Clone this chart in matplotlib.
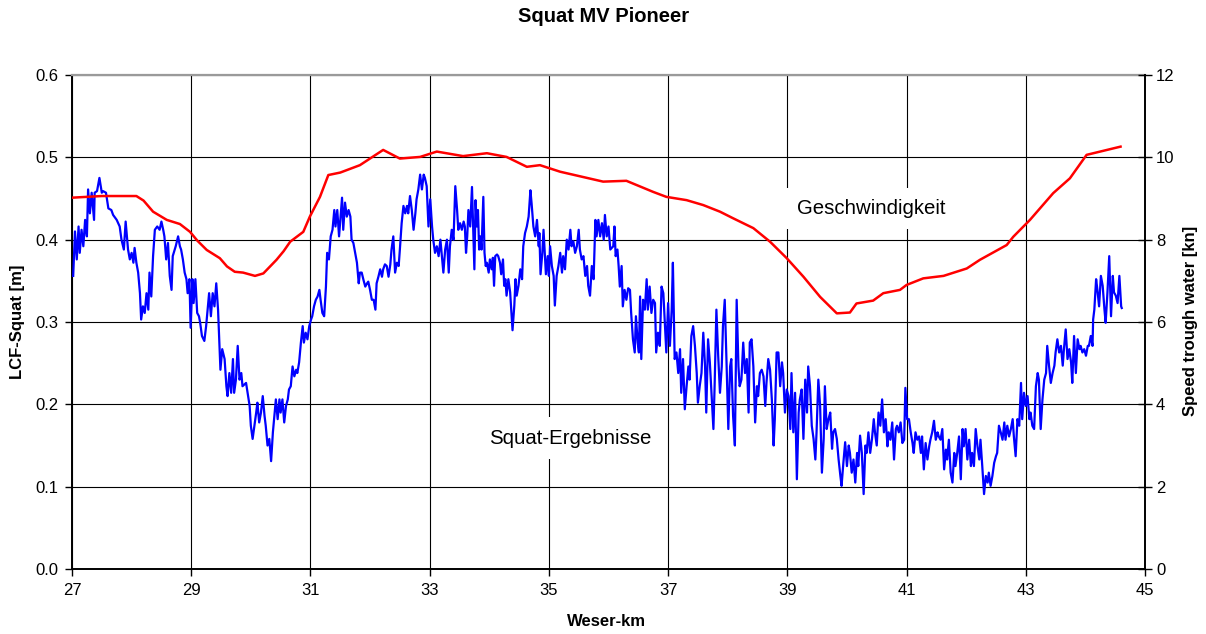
import numpy as np
import matplotlib
matplotlib.use("Agg")
import matplotlib.pyplot as plt

plt.rcParams['font.family'] = ['Liberation Sans', 'DejaVu Sans']

# ---------------- data ----------------
title = "Squat MV Pioneer"
x_label = "Weser-km"
y_label_left = "LCF-Squat [m]"
y_label_right = "Speed trough water [kn]"
label_squat = "Squat-Ergebnisse"
label_speed = "Geschwindigkeit"

x_ticks = [27, 29, 31, 33, 35, 37, 39, 41, 43, 45]
y_ticks_left = [0.0, 0.1, 0.2, 0.3, 0.4, 0.5, 0.6]
y_ticks_right = [0, 2, 4, 6, 8, 10, 12]

# Squat results (blue), Weser-km
blue_km = [
    27.02, 27.05, 27.08, 27.11, 27.13, 27.16, 27.19, 27.22, 27.25, 27.27,
    27.30, 27.33, 27.37, 27.38, 27.42, 27.46, 27.50, 27.52, 27.57, 27.61,
    27.66, 27.69, 27.75, 27.80, 27.83, 27.87, 27.90, 27.94, 27.97, 28.00,
    28.03, 28.05, 28.08, 28.11, 28.14, 28.16, 28.19, 28.22, 28.25, 28.28,
    28.30, 28.33, 28.36, 28.39, 28.43, 28.47, 28.50, 28.53, 28.55, 28.58,
    28.61, 28.64, 28.67, 28.69, 28.74, 28.78, 28.81, 28.83, 28.86, 28.89,
    28.92, 28.94, 28.97, 28.99, 29.02, 29.04, 29.07, 29.10, 29.13, 29.15,
    29.18, 29.22, 29.25, 29.30, 29.33, 29.36, 29.39, 29.42, 29.45, 29.49,
    29.52, 29.56, 29.59, 29.61, 29.64, 29.67, 29.70, 29.72, 29.75, 29.78,
    29.81, 29.84, 29.86, 29.92, 29.98, 30.00, 30.03, 30.06, 30.09, 30.11,
    30.14, 30.17, 30.20, 30.23, 30.25, 30.28, 30.31, 30.34, 30.37, 30.39,
    30.42, 30.45, 30.48, 30.50, 30.53, 30.56, 30.59, 30.62, 30.64, 30.67,
    30.70, 30.73, 30.76, 30.78, 30.81, 30.84, 30.87, 30.89, 30.92, 30.95,
    30.98, 31.01, 31.03, 31.06, 31.09, 31.12, 31.15, 31.17, 31.20, 31.23,
    31.26, 31.28, 31.31, 31.34, 31.37, 31.40, 31.42, 31.45, 31.48,
    31.53, 31.55, 31.58, 31.61, 31.64, 31.67, 31.69, 31.72, 31.75, 31.78,
    31.81, 31.83, 31.86, 31.89, 31.92, 31.95, 31.97, 32.00, 32.03, 32.06,
    32.09, 32.11, 32.14, 32.17, 32.20, 32.22, 32.25, 32.28, 32.31, 32.34,
    32.36, 32.39, 32.42, 32.45, 32.48, 32.50, 32.53, 32.56, 32.59, 32.62,
    32.64, 32.67, 32.70, 32.73, 32.76, 32.78, 32.81, 32.84, 32.87, 32.90,
    32.92, 32.95, 32.98, 33.01, 33.04, 33.06, 33.09, 33.12, 33.15, 33.18,
    33.20, 33.23, 33.26, 33.29, 33.32, 33.34, 33.37, 33.40, 33.43, 33.46,
    33.48,
    33.51, 33.54, 33.57, 33.59, 33.61, 33.63, 33.65, 33.68, 33.71, 33.73,
    33.75, 33.77, 33.79, 33.81, 33.83, 33.85, 33.87, 33.90, 33.92, 33.94,
    33.96, 33.99, 34.01, 34.04, 34.06, 34.08, 34.10, 34.13, 34.15, 34.18,
    34.20, 34.23, 34.25, 34.27, 34.29, 34.32, 34.35, 34.37, 34.39, 34.42,
    34.44, 34.46, 34.49, 34.52, 34.55, 34.57, 34.60, 34.63, 34.66, 34.69,
    34.71, 34.74, 34.77, 34.80, 34.83, 34.84, 34.86, 34.89, 34.91, 34.93,
    34.95, 34.98, 35.00, 35.02, 35.05, 35.08, 35.10, 35.13, 35.16, 35.19,
    35.22, 35.24, 35.27, 35.30, 35.33, 35.36, 35.38, 35.41, 35.44, 35.47,
    35.50, 35.52, 35.55, 35.58, 35.61, 35.64, 35.66, 35.69, 35.72, 35.75,
    35.78, 35.80, 35.83, 35.86, 35.89, 35.92, 35.94, 35.97, 36.00, 36.03,
    36.08, 36.10, 36.12, 36.15, 36.17, 36.19, 36.22, 36.24, 36.27, 36.30,
    36.33, 36.36, 36.38, 36.41, 36.44, 36.46, 36.49, 36.51, 36.53, 36.55,
    36.58, 36.61, 36.64, 36.66, 36.69, 36.72, 36.75, 36.78, 36.80, 36.83,
    36.86, 36.89, 36.92, 36.94, 36.97, 37.00, 37.03, 37.06, 37.08, 37.11,
    37.14, 37.17, 37.20, 37.22, 37.25, 37.28, 37.31, 37.34, 37.36, 37.39,
    37.42, 37.45, 37.48, 37.50, 37.53, 37.56, 37.59, 37.62, 37.64, 37.67,
    37.70, 37.73, 37.76, 37.78, 37.81, 37.84, 37.87, 37.90, 37.92, 37.95,
    37.98, 38.01, 38.04, 38.06, 38.09, 38.12, 38.15, 38.18, 38.20, 38.23,
    38.26, 38.29, 38.32, 38.35, 38.37, 38.40, 38.43, 38.46, 38.49, 38.51,
    38.54, 38.57, 38.60, 38.63, 38.65, 38.68, 38.71, 38.74, 38.77, 38.79,
    38.82, 38.85, 38.88, 38.91, 38.93, 38.96, 38.99, 39.02, 39.05, 39.07,
    39.10, 39.13, 39.16, 39.19, 39.21, 39.24, 39.27, 39.30, 39.33, 39.35,
    39.38, 39.41, 39.44, 39.47, 39.49, 39.52, 39.55, 39.58, 39.61, 39.63,
    39.66, 39.69, 39.72, 39.75, 39.77, 39.80, 39.83, 39.86, 39.89, 39.91,
    39.94, 39.97, 40.00, 40.03, 40.05, 40.08, 40.11, 40.14, 40.17, 40.19,
    40.22, 40.25, 40.28, 40.31, 40.33, 40.36, 40.39, 40.42, 40.45, 40.47,
    40.50, 40.53, 40.56, 40.59,
    40.62, 40.65, 40.68, 40.70, 40.73, 40.76, 40.79, 40.82, 40.84, 40.87,
    40.90, 40.93, 40.96, 40.98, 41.01, 41.04, 41.07, 41.10, 41.12, 41.15,
    41.18, 41.21, 41.24, 41.26, 41.29, 41.32, 41.35, 41.38, 41.40, 41.43,
    41.46, 41.49, 41.52, 41.54, 41.57, 41.60, 41.63, 41.66, 41.68, 41.71,
    41.74, 41.77, 41.80, 41.82, 41.85, 41.88, 41.91, 41.94, 41.96, 41.99,
    42.02, 42.05, 42.08, 42.10, 42.13, 42.16, 42.19, 42.22, 42.24, 42.27,
    42.30, 42.33, 42.36, 42.38, 42.41, 42.44, 42.47, 42.50, 42.52, 42.55,
    42.58, 42.61, 42.64, 42.66, 42.69, 42.72, 42.75, 42.78, 42.80, 42.83,
    42.86, 42.89, 42.92, 42.94, 42.97, 43.00, 43.03, 43.06, 43.08, 43.11,
    43.14, 43.17, 43.20, 43.22, 43.25, 43.28, 43.31, 43.34, 43.36, 43.39,
    43.42, 43.45, 43.48, 43.50, 43.53, 43.56, 43.59, 43.62, 43.64, 43.67,
    43.70, 43.73, 43.76, 43.78, 43.81, 43.84, 43.87, 43.90, 43.92, 43.95,
    43.98, 44.01, 44.04, 44.06, 44.09, 44.12, 44.13, 44.15, 44.18, 44.20,
    44.23, 44.26, 44.29, 44.32, 44.34, 44.37, 44.40, 44.43, 44.46, 44.48,
    44.51, 44.54, 44.57, 44.60, 44.61,
]

# Squat results (blue), LCF-Squat [m]
blue_squat = [
    0.356, 0.410, 0.376, 0.416, 0.384, 0.412, 0.392, 0.424, 0.404, 0.461,
    0.432, 0.457, 0.424, 0.457, 0.459, 0.475, 0.457, 0.459, 0.457, 0.438,
    0.436, 0.430, 0.424, 0.416, 0.400, 0.388, 0.422, 0.388, 0.376, 0.384,
    0.372, 0.390, 0.372, 0.360, 0.335, 0.303, 0.319, 0.311, 0.335, 0.315,
    0.360, 0.331, 0.380, 0.412, 0.416, 0.412, 0.422, 0.412, 0.404, 0.376,
    0.396, 0.356, 0.339, 0.380, 0.392, 0.404, 0.392, 0.388, 0.376, 0.360,
    0.352, 0.335, 0.352, 0.293, 0.352, 0.323, 0.352, 0.311, 0.307, 0.299,
    0.283, 0.277, 0.295, 0.335, 0.307, 0.335, 0.319, 0.347, 0.315, 0.242,
    0.267, 0.255, 0.222, 0.210, 0.238, 0.214, 0.255, 0.214, 0.230, 0.271,
    0.230, 0.238, 0.222, 0.226, 0.198, 0.174, 0.158, 0.174, 0.190, 0.202,
    0.178, 0.190, 0.210, 0.186, 0.174, 0.150, 0.158, 0.131, 0.166, 0.182,
    0.206, 0.182, 0.206, 0.190, 0.206, 0.178, 0.198, 0.206, 0.218, 0.222,
    0.246, 0.234, 0.242, 0.238, 0.251, 0.275, 0.295, 0.275, 0.287, 0.279,
    0.295, 0.303, 0.307, 0.319, 0.327, 0.331, 0.339, 0.327, 0.311, 0.307,
    0.343, 0.384, 0.376, 0.404, 0.412, 0.436, 0.416, 0.436, 0.404,
    0.451, 0.412, 0.445, 0.428, 0.436, 0.428, 0.400, 0.396, 0.384, 0.372,
    0.347, 0.360, 0.360, 0.351, 0.343, 0.347, 0.349, 0.339, 0.327, 0.327,
    0.315, 0.347, 0.355, 0.364, 0.355, 0.364, 0.370, 0.368, 0.355, 0.370,
    0.388, 0.404, 0.360, 0.372, 0.368, 0.388, 0.420, 0.441, 0.432, 0.441,
    0.432, 0.453, 0.436, 0.412, 0.432, 0.449, 0.461, 0.479, 0.461, 0.479,
    0.475, 0.465, 0.416, 0.449, 0.416, 0.400, 0.384, 0.392, 0.380, 0.400,
    0.384, 0.360, 0.388, 0.400, 0.360, 0.392, 0.412, 0.400, 0.465, 0.436,
    0.412,
    0.420, 0.412, 0.422, 0.416, 0.384, 0.404, 0.436, 0.416, 0.464, 0.412,
    0.364, 0.448, 0.416, 0.436, 0.388, 0.404, 0.388, 0.452, 0.384, 0.368,
    0.372, 0.360, 0.376, 0.364, 0.378, 0.344, 0.380, 0.382, 0.380, 0.372,
    0.358, 0.376, 0.344, 0.352, 0.332, 0.352, 0.336, 0.312, 0.290, 0.320,
    0.352, 0.332, 0.344, 0.364, 0.352, 0.392, 0.408, 0.416, 0.428, 0.460,
    0.444, 0.416, 0.404, 0.424, 0.392, 0.408, 0.358, 0.384, 0.412, 0.384,
    0.358, 0.380, 0.356, 0.392, 0.368, 0.356, 0.320, 0.356, 0.368, 0.384,
    0.360, 0.380, 0.364, 0.400, 0.388, 0.412, 0.392, 0.398, 0.384, 0.392,
    0.412, 0.388, 0.376, 0.380, 0.356, 0.368, 0.344, 0.332, 0.368, 0.352,
    0.424, 0.404, 0.424, 0.404, 0.420, 0.400, 0.430, 0.404, 0.416, 0.388,
    0.392, 0.416, 0.380, 0.388, 0.368, 0.343, 0.368, 0.319, 0.339, 0.327,
    0.341, 0.339, 0.311, 0.279, 0.263, 0.307, 0.275, 0.263, 0.331, 0.255,
    0.327, 0.315, 0.352, 0.315, 0.343, 0.311, 0.327, 0.323, 0.263, 0.287,
    0.271, 0.343, 0.335, 0.307, 0.263, 0.323, 0.271, 0.315, 0.372, 0.255,
    0.263, 0.238, 0.267, 0.214, 0.255, 0.194, 0.222, 0.246, 0.230, 0.283,
    0.295, 0.271, 0.238, 0.202, 0.222, 0.238, 0.287, 0.246, 0.190, 0.279,
    0.251, 0.210, 0.170, 0.222, 0.315, 0.259, 0.214, 0.246, 0.295, 0.327,
    0.251, 0.170, 0.246, 0.255, 0.186, 0.150, 0.327, 0.246, 0.222, 0.230,
    0.275, 0.238, 0.255, 0.190, 0.275, 0.279, 0.246, 0.178, 0.222, 0.210,
    0.238, 0.242, 0.234, 0.198, 0.226, 0.255, 0.242, 0.206, 0.150, 0.182,
    0.263, 0.263, 0.222, 0.251, 0.238, 0.190, 0.218, 0.210, 0.170, 0.238,
    0.166, 0.214, 0.109, 0.190, 0.206, 0.218, 0.158, 0.230, 0.190, 0.246,
    0.222, 0.174, 0.158, 0.133, 0.166, 0.230, 0.198, 0.117, 0.158, 0.222,
    0.170, 0.182, 0.190, 0.146, 0.166, 0.170, 0.158, 0.133, 0.113, 0.101,
    0.129, 0.154, 0.125, 0.150, 0.141, 0.117, 0.133, 0.105, 0.141, 0.125,
    0.162, 0.141, 0.091, 0.150, 0.141, 0.166, 0.141, 0.158, 0.182, 0.166,
    0.150, 0.190, 0.174, 0.206,
    0.166, 0.182, 0.149, 0.166, 0.157, 0.178, 0.133, 0.170, 0.174, 0.166,
    0.178, 0.153, 0.157, 0.220, 0.182, 0.182, 0.166, 0.153, 0.141, 0.166,
    0.157, 0.161, 0.141, 0.161, 0.121, 0.153, 0.133, 0.149, 0.157, 0.166,
    0.180, 0.157, 0.166, 0.161, 0.157, 0.170, 0.121, 0.145, 0.133, 0.157,
    0.117, 0.105, 0.141, 0.125, 0.141, 0.161, 0.109, 0.170, 0.149, 0.170,
    0.133, 0.157, 0.125, 0.141, 0.125, 0.170, 0.149, 0.133, 0.157, 0.125,
    0.091, 0.113, 0.105, 0.117, 0.101, 0.113, 0.129, 0.137, 0.141, 0.174,
    0.166, 0.157, 0.178, 0.157, 0.174, 0.161, 0.170, 0.182, 0.161, 0.137,
    0.182, 0.174, 0.226, 0.182, 0.214, 0.198, 0.210, 0.182, 0.190, 0.174,
    0.170, 0.222, 0.238, 0.230, 0.170, 0.206, 0.230, 0.238, 0.271, 0.247,
    0.226, 0.238, 0.247, 0.263, 0.279, 0.263, 0.271, 0.247, 0.267, 0.291,
    0.255, 0.267, 0.251, 0.226, 0.283, 0.238, 0.279, 0.267, 0.271, 0.263,
    0.267, 0.259, 0.271, 0.271, 0.283, 0.271, 0.303, 0.315, 0.352, 0.340,
    0.319, 0.356, 0.344, 0.315, 0.299, 0.336, 0.380, 0.307, 0.356, 0.336,
    0.332, 0.323, 0.356, 0.319, 0.317,
]

# Speed through water (red), Weser-km and knots
red_km = [
    27.00, 27.50, 28.08, 28.20, 28.36, 28.59, 28.81, 28.98, 29.10, 29.26,
    29.48, 29.60, 29.73, 29.87, 30.07, 30.21, 30.43, 30.55, 30.66, 30.88,
    30.99, 31.16, 31.30, 31.50, 31.83, 32.22, 32.50, 32.84, 33.12, 33.56,
    33.96, 34.29, 34.63, 34.85, 35.19, 35.91, 36.30, 36.75, 36.97, 37.31,
    37.59, 37.87, 38.09, 38.43, 38.71, 38.99, 39.27, 39.55, 39.83, 40.05,
    40.16, 40.44, 40.61, 40.89, 41.00, 41.28, 41.62, 42.01, 42.23, 42.68,
    42.79, 43.07, 43.46, 43.74, 44.02, 44.59,
]
red_kn = [
    9.02, 9.06, 9.06, 8.95, 8.68, 8.48, 8.38, 8.19, 7.98, 7.75,
    7.55, 7.35, 7.22, 7.20, 7.12, 7.18, 7.51, 7.72, 7.95, 8.19,
    8.56, 9.04, 9.57, 9.63, 9.81, 10.18, 9.97, 10.01, 10.14, 10.03,
    10.10, 10.01, 9.77, 9.81, 9.65, 9.41, 9.43, 9.16, 9.04, 8.96,
    8.84, 8.68, 8.52, 8.28, 7.95, 7.55, 7.10, 6.61, 6.21, 6.23,
    6.45, 6.52, 6.70, 6.78, 6.90, 7.06, 7.12, 7.30, 7.51, 7.87,
    8.07, 8.48, 9.13, 9.49, 10.06, 10.26,
]

assert len(blue_km) == len(blue_squat), (len(blue_km), len(blue_squat))
assert len(red_km) == len(red_kn), (len(red_km), len(red_kn))

# ---------------- figure ----------------
W, H = 1206, 634
fig = plt.figure(figsize=(W / 100, H / 100), dpi=100)
L, R, T, B = 72, 1145, 75, 569
ax = fig.add_axes([L / W, 1 - B / H, (R - L) / W, (B - T) / H])

ax.plot(blue_km, blue_squat, color='#0000ff', lw=1.6, zorder=3)
ax.set_xlim(27, 45)
ax.set_ylim(0, 0.6)
ax.set_xticks(x_ticks)
ax.set_xticklabels([str(v) for v in x_ticks])
ax.set_yticks(y_ticks_left)
ax.set_yticklabels([f"{v:.1f}" for v in y_ticks_left])
ax.grid(True, color='#000000', lw=0.8)
ax.set_axisbelow(True)

ax.tick_params(axis='x', direction='out', length=5, width=1, labelsize=12, pad=5)
ax.tick_params(axis='y', direction='out', length=5, width=1, labelsize=12, pad=5)
for s in ['left', 'bottom']:
    ax.spines[s].set_color('black')
    ax.spines[s].set_linewidth(1.4)
ax.spines['top'].set_color('#9a9a9a')
ax.spines['top'].set_linewidth(1.6)
ax.spines['right'].set_visible(False)

ax2 = ax.twinx()
ax2.plot(red_km, red_kn, color='#ff0000', lw=1.8, zorder=3)
ax2.set_ylim(0, 12)
ax2.set_yticks(y_ticks_right)
ax2.set_yticklabels([str(v) for v in y_ticks_right])
ax2.tick_params(axis='y', direction='inout', length=10, width=1, labelsize=12, pad=3)
for s in ['left', 'bottom', 'top']:
    ax2.spines[s].set_visible(False)
ax2.spines['right'].set_color('black')
ax2.spines['right'].set_linewidth(1.4)

box = dict(boxstyle='square,pad=0.55', fc='white', ec='none')
ax.text(40.40, 0.438, label_speed, fontsize=14.7, ha='center', va='center',
        bbox=box, zorder=6)
ax.text(35.35, 0.159, label_squat, fontsize=14.7, ha='center', va='center',
        bbox=box, zorder=6)

fig.text(604 / W, 1 - 17 / H, title, fontsize=14.5, fontweight='bold',
         ha='center', va='center')
fig.text(606 / W, 1 - 622 / H, x_label, fontsize=12, fontweight='bold',
         ha='center', va='center')
fig.text(18 / W, 1 - 322 / H, y_label_left, fontsize=12, fontweight='bold',
         ha='center', va='center', rotation=90)
fig.text(1190 / W, 1 - 321 / H, y_label_right, fontsize=12, fontweight='bold',
         ha='center', va='center', rotation=90)

fig.savefig("out.png", dpi=100)
